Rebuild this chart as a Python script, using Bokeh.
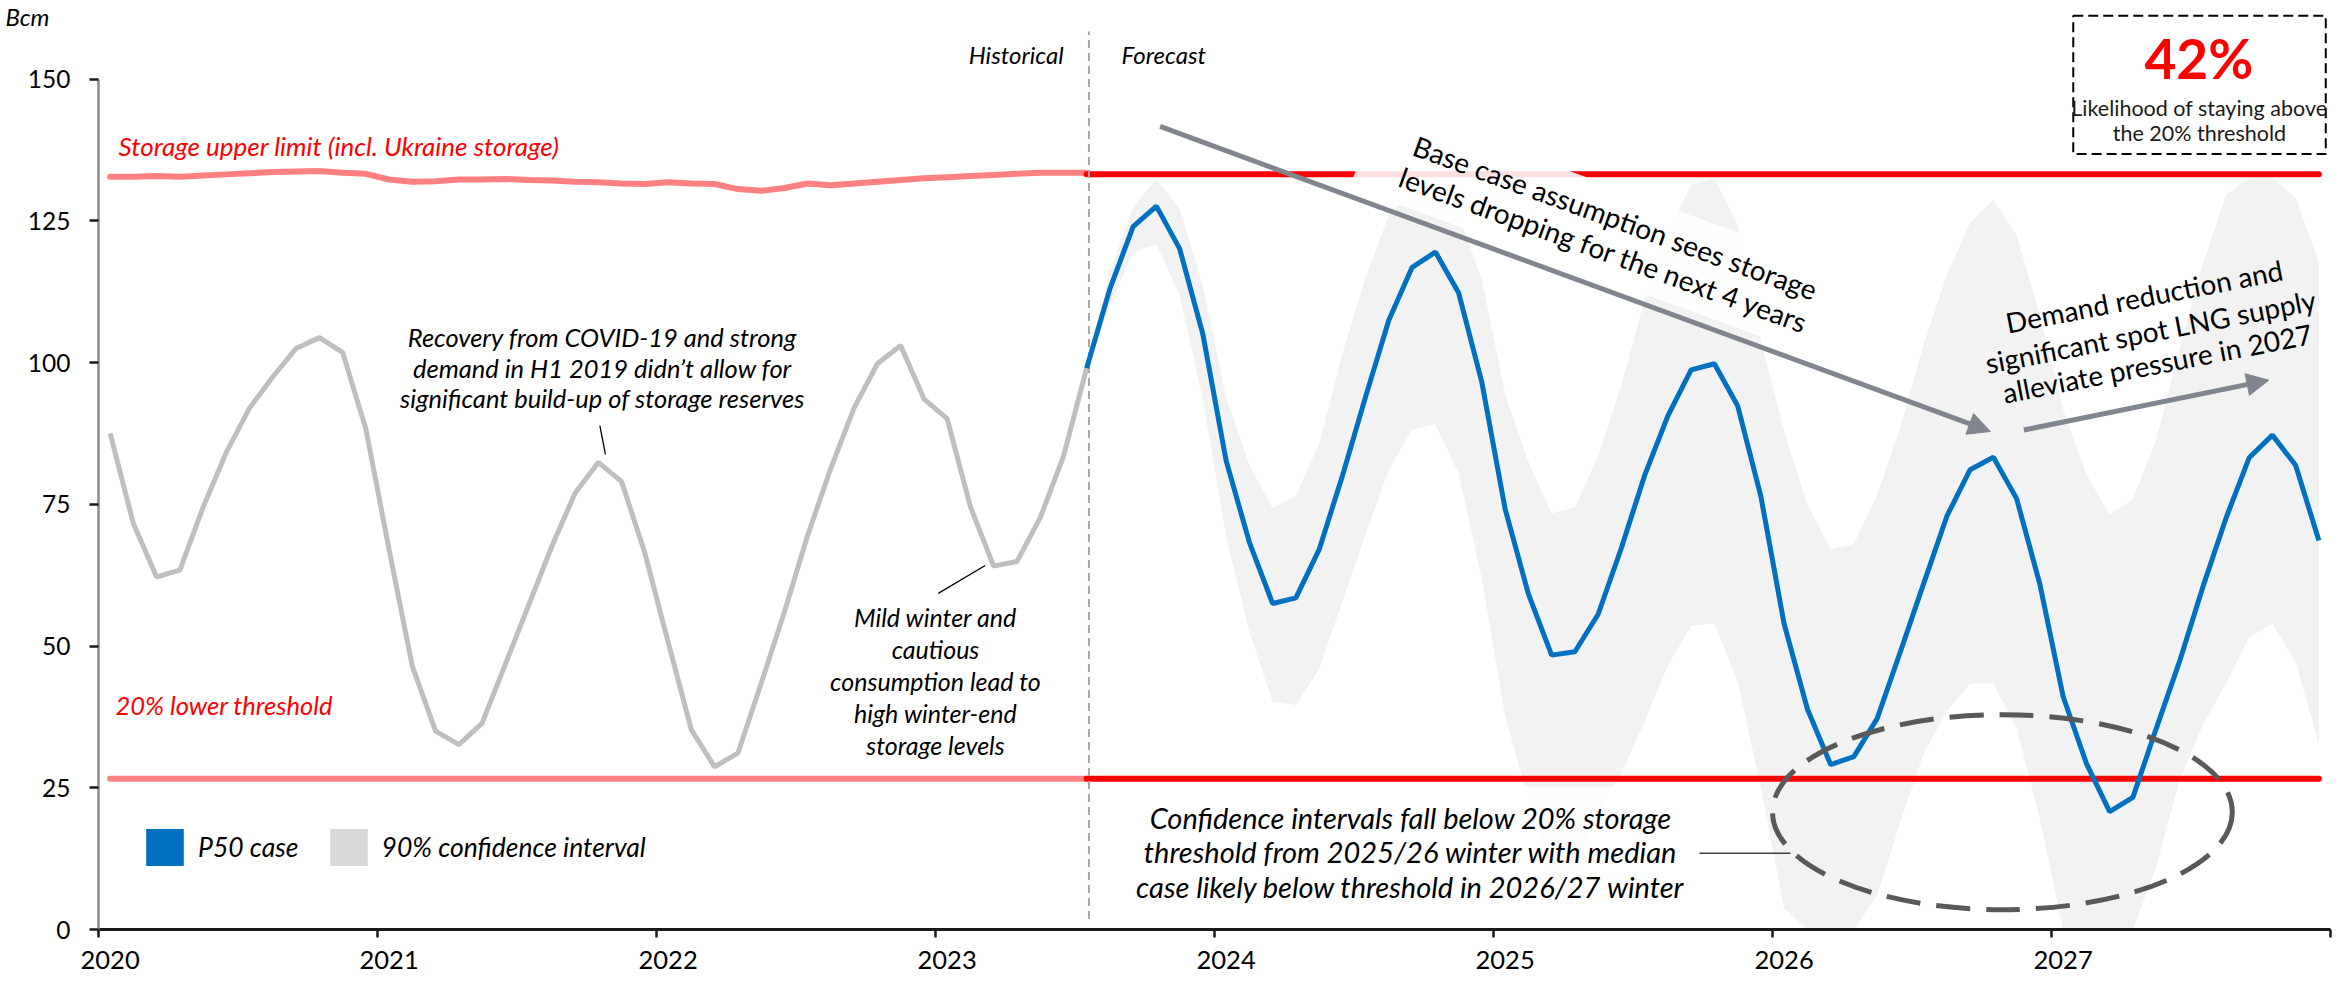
import math
import numpy as np
import pandas as pd
from bokeh.plotting import figure
from bokeh.models import (Range1d, FixedTicker, Label, Arrow, NormalHead,
                          Legend, LegendItem, BoxAnnotation, LinearAxis)
from bokeh.embed import file_html
from bokeh.resources import INLINE

# ---------------- data ----------------
hist_months = pd.period_range("2020-01", "2023-07", freq="M")
fcst_months = pd.period_range("2023-07", "2027-12", freq="M")

hist_storage = [
    87.5, 71.6, 62.2, 63.4, 74.5, 84.2, 92.0, 97.5, 102.5, 104.4, 101.8, 88.3,
    67.0, 46.4, 35.0, 32.6, 36.4, 46.8, 57.2, 67.6, 77.0, 82.4, 79.0, 66.4,
    50.7, 35.2, 28.7, 31.1, 43.4, 56.0, 69.5, 81.4, 92.0, 99.8, 103.0, 93.6,
    90.1, 74.6, 64.1, 64.9, 72.6, 83.4, 99.0,
]
hist_upper_limit = [
    132.8, 132.8, 132.9, 132.8, 133.0, 133.2, 133.4, 133.6, 133.7, 133.8, 133.5, 133.3,
    132.3, 131.9, 132.0, 132.3, 132.3, 132.4, 132.2, 132.1, 131.9, 131.8, 131.6, 131.5,
    131.8, 131.6, 131.5, 130.6, 130.3, 130.8, 131.6, 131.3, 131.6, 131.9, 132.2, 132.5,
    132.7, 132.9, 133.1, 133.3, 133.5, 133.5, 133.5,
]
p50_case = [
    99.0, 113.0, 124.0, 127.6, 120.1, 105.0,
    82.7, 68.3, 57.5, 58.5, 67.0, 80.0, 94.0, 107.5, 116.8, 119.5, 112.3, 96.5,
    74.2, 59.2, 48.4, 49.0, 55.6, 67.3, 80.1, 90.6, 98.7, 99.8, 92.4, 76.4,
    53.9, 38.9, 29.1, 30.5, 37.2, 49.0, 61.0, 72.9, 81.1, 83.3, 76.0, 60.9,
    41.1, 29.3, 20.8, 23.3, 35.4, 47.2, 60.3, 72.5, 83.2, 87.2, 81.9, 68.6,
]
ci_high = [
    99.0, 116.0, 127.4, 132.4, 127.1, 113.5,
    93.9, 82.0, 74.3, 76.6, 85.7, 101.6, 115.0, 126.0, 130.5, 131.5, 126.0, 114.6,
    94.4, 82.5, 73.4, 74.5, 83.5, 96.1, 111.1, 123.0, 131.3, 132.6, 124.3, 104.0,
    87.8, 75.0, 67.1, 68.0, 76.7, 88.6, 103.2, 115.5, 124.7, 128.7, 122.5, 108.4,
    91.7, 80.3, 73.2, 75.9, 86.4, 102.3, 117.2, 129.5, 132.6, 132.6, 129.1, 117.7,
]
ci_low = [
    99.0, 110.0, 119.4, 120.9, 111.9, 93.5,
    69.3, 52.5, 40.2, 39.6, 45.9, 57.8, 69.7, 81.1, 88.2, 89.1, 80.5, 61.8,
    37.6, 23.0, 10.0, 10.0, 20.4, 27.5, 36.7, 46.5, 53.6, 54.0, 43.8, 25.0,
    3.8, 0.0, 0.0, 0.0, 6.0, 19.0, 31.0, 38.5, 43.4, 43.4, 35.5, 19.5,
    0.0, 0.0, 0.0, 0.0, 11.0, 26.2, 36.0, 43.3, 51.5, 53.9, 47.2, 32.7,
]
fcst_upper_limit = 133.2
lower_threshold = 26.6

year_ticks = [2020, 2021, 2022, 2023, 2024, 2025, 2026, 2027, 2028]
year_labels = ["2020", "2021", "2022", "2023", "2024", "2025", "2026", "2027", ""]
y_ticks = [0, 25, 50, 75, 100, 125, 150]
unit_label = "Bcm"


def to_x(periods):
    return [pr.year + (pr.month - 0.5) / 12.0 for pr in periods]


hx = to_x(hist_months)
fx = to_x(fcst_months)

FONT = "Lato"

# ---------------- figure ----------------
p = figure(width=2348, height=983, x_range=Range1d(2020, 2028), y_range=Range1d(0, 163.87),
           output_backend="svg", toolbar_location=None,
           min_border_left=98, min_border_right=18, min_border_top=0, min_border_bottom=54)
p.outline_line_color = None
p.grid.visible = False
p.background_fill_color = "white"
p.border_fill_color = "white"

# confidence band
p.varea(x=fx, y1=ci_low, y2=ci_high, fill_color="#f2f2f2")

# upper limit and lower threshold
p.line(hx, hist_upper_limit, line_color="#ff8080", line_width=6, line_cap="round")
p.line(fx, [fcst_upper_limit] * len(fx), line_color="#ff0000", line_width=6, line_cap="round")
p.line(hx, [lower_threshold] * len(hx), line_color="#ff8080", line_width=6, line_cap="round")
p.line(fx, [lower_threshold] * len(fx), line_color="#ff0000", line_width=6, line_cap="round")

# semi transparent text boxes
p.rect(x=[2025.416], y=[122.77], width=[520], height=[90], width_units="screen",
       height_units="screen", angle=[-math.radians(20)], fill_color="white",
       fill_alpha=0.88, line_color=None)
p.quad(left=[2023.699], right=[2025.706], top=[25.2], bottom=[1.9],
       fill_color="white", fill_alpha=0.85, line_color=None)

# historical / forecast divider
p.segment(x0=[2023.55], y0=[1.85], x1=[2023.55], y1=[158.4], line_color="#a6a6a6",
          line_width=2, line_dash="8 5")

# series lines
p.line(hx, hist_storage, line_color="#bfbfbf", line_width=5)
p.line(fx, p50_case, line_color="#0070c0", line_width=5)

# dashed ellipse
p.ellipse(x=[2026.824], y=[20.7], width=[1.648], height=[34.4], fill_color=None,
          line_color="#595959", line_width=5, line_dash="34 16")

# connectors
p.segment(x0=[2021.797], y0=[88.9], x1=[2021.817], y1=[83.8], line_color="black", line_width=1.3)
p.segment(x0=[2023.010], y0=[59.3], x1=[2023.178], y1=[64.2], line_color="black", line_width=1.3)
p.segment(x0=[2025.738], y0=[13.44], x1=[2026.064], y1=[13.44], line_color="#404040",
          line_width=1.5)

# arrows
ac = "#80858e"
p.add_layout(Arrow(x_start=2023.805, y_start=141.65, x_end=2026.781, y_end=87.85,
                   line_color=ac, line_width=5,
                   end=NormalHead(size=22, fill_color=ac, line_color=ac, line_width=1)))
p.add_layout(Arrow(x_start=2026.901, y_start=88.1, x_end=2027.779, y_end=96.9,
                   line_color=ac, line_width=5,
                   end=NormalHead(size=22, fill_color=ac, line_color=ac, line_width=1)))

# 42% box
p.add_layout(BoxAnnotation(left=2027.078, right=2027.983, top=161.2, bottom=136.8,
                           fill_alpha=0, line_color="black", line_alpha=1,
                           line_width=2, line_dash="10 5"))

# legend (swatch-only renderers, nothing drawn in the plot)
nan1 = np.array([np.nan])
r_blue = p.quad(left=nan1, right=nan1, top=nan1, bottom=nan1, fill_color="#0070c0", line_color=None)
r_grey = p.quad(left=nan1, right=nan1, top=nan1, bottom=nan1, fill_color="#d9d9d9", line_color=None)
legend = Legend(items=[LegendItem(label="P50 case", renderers=[r_blue]),
                       LegendItem(label="90% confidence interval", renderers=[r_grey])],
                orientation="horizontal", location=(43, 59), glyph_width=47, glyph_height=46,
                label_standoff=10, spacing=26, padding=0, margin=0,
                border_line_color=None, background_fill_alpha=0,
                label_text_font=FONT, label_text_font_style="italic",
                label_text_font_size="26.5px", label_text_color="black")
p.add_layout(legend)


def lab(x, y, text, size, color="black", style="italic", align="left",
        baseline="alphabetic", angle=0.0):
    p.add_layout(Label(x=x, y=y, text=text, text_font=FONT, text_font_size=f"{size}px",
                       text_font_style=style, text_color=color, text_align=align,
                       text_baseline=baseline, angle=angle, angle_units="rad"))


lab(2020.072, 138.2, "Storage upper limit (incl. Ukraine storage)", 26, color="#ff0000")
lab(2020.061, 39.6, "20% lower threshold", 25.5, color="#ff0000")
lab(2023.459, 154.4, "Historical", 24, align="right")
lab(2023.667, 154.4, "Forecast", 24)

for yy, t in zip([104.5, 99.0, 93.7],
                 ["Recovery from COVID-19 and strong",
                  "demand in H1 2019 didn\u2019t allow for",
                  "significant build-up of storage reserves"]):
    lab(2021.806, yy, t, 25.5, align="center")

for yy, t in zip([55.08, 49.43, 43.79, 38.15, 32.5],
                 ["Mild winter and", "cautious", "consumption lead to",
                  "high winter-end", "storage levels"]):
    lab(2023.0, yy, t, 25, align="center")

for yy, t in zip([19.69, 13.69, 7.51],
                 ["Confidence intervals fall below 20% storage",
                  "threshold from 2025/26 winter with median",
                  "case likely below threshold in 2026/27 winter"]):
    lab(2024.703, yy, t, 29, align="center")

a1 = -math.radians(20)
lab(2025.437, 125.6, "Base case assumption sees storage", 28, style="normal",
    align="center", baseline="middle", angle=a1)
lab(2025.395, 119.95, "levels dropping for the next 4 years", 28, style="normal",
    align="center", baseline="middle", angle=a1)

a2 = math.radians(11)
for xx, yy, t in zip([2027.332, 2027.355, 2027.379], [111.75, 105.54, 99.93],
                     ["Demand reduction and", "significant spot LNG supply",
                      "alleviate pressure in 2027"]):
    lab(xx, yy, t, 28, style="normal", align="center", baseline="middle", angle=a2)

lab(2027.528, 153.8, "42%", 55, color="#ff0000", style="bold", align="center")
lab(2027.530, 144.9, "Likelihood of staying above", 21.5, color="#1a1a1a", style="normal",
    align="center")
lab(2027.530, 140.5, "the 20% threshold", 21.5, color="#1a1a1a", style="normal",
    align="center")

# ---------------- axes ----------------
# x axis: tick marks at the start of each year (minor), labels in January (major)
label_ticks = [t + 0.5 / 12.0 for t in year_ticks]
xa = p.xaxis[0]
xa.ticker = FixedTicker(ticks=label_ticks, minor_ticks=year_ticks)
xa.major_label_overrides = {lt: l for lt, l in zip(label_ticks, year_labels)}
xa.bounds = (2020, 2028)
xa.major_tick_line_color = None
xa.major_tick_out = 8
xa.major_tick_in = 0
xa.minor_tick_out = 8
xa.minor_tick_in = 0
xa.minor_tick_line_color = "#1a1a1a"
xa.minor_tick_line_width = 2.5
xa.axis_line_width = 3
xa.axis_line_color = "#1a1a1a"
xa.major_label_text_font = FONT
xa.major_label_text_font_size = "25.5px"
xa.major_label_text_color = "black"
xa.major_label_standoff = 13

ya = p.yaxis[0]
ya.ticker = FixedTicker(ticks=y_ticks)
ya.bounds = (0, 150)
ya.minor_tick_line_color = None
ya.major_tick_out = 9
ya.major_tick_in = 0
ya.axis_line_width = 2.5
ya.axis_line_color = "#8c8c8c"
ya.major_tick_line_width = 2.5
ya.major_tick_line_color = "#1a1a1a"
ya.major_label_text_font = FONT
ya.major_label_text_font_size = "24.5px"
ya.major_label_text_color = "black"
ya.major_label_standoff = 19

# unit caption above the value axis, drawn as an extra (line-less) left axis
unit_axis = LinearAxis(ticker=FixedTicker(ticks=[161.1]),
                       major_label_overrides={161.1: unit_label},
                       axis_line_color=None, major_tick_line_color=None,
                       minor_tick_line_color=None, major_tick_out=0, major_tick_in=0,
                       major_label_standoff=-25, major_label_text_font=FONT,
                       major_label_text_font_style="italic",
                       major_label_text_font_size="24px", major_label_text_color="black")
p.add_layout(unit_axis, "left")

open("out.html", "w").write(file_html(p, INLINE))
